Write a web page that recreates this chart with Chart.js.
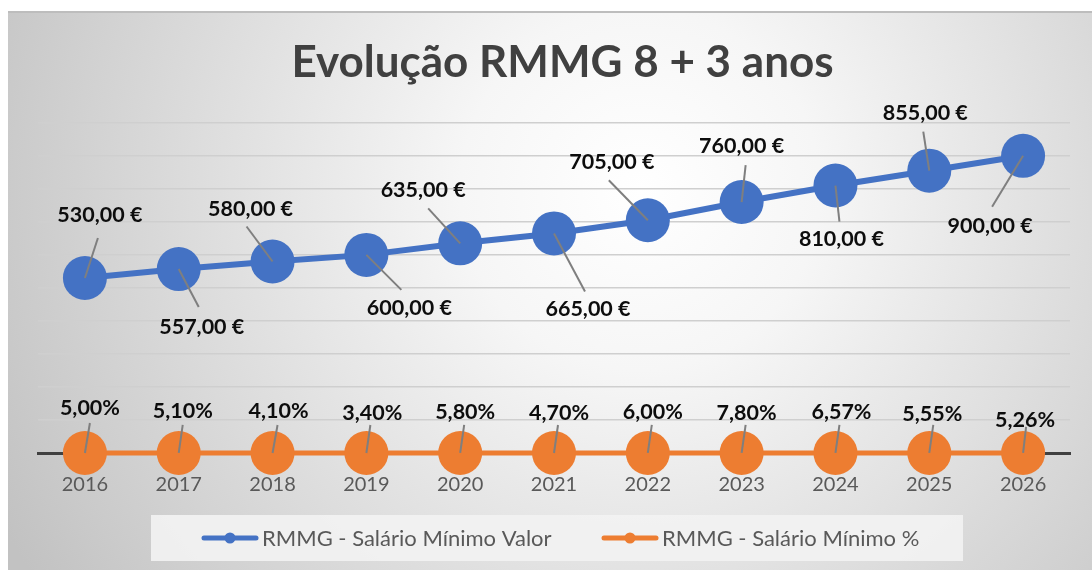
<!DOCTYPE html>
<html>
<head>
<meta charset="utf-8">
<script src="https://cdn.jsdelivr.net/npm/chart.js@4.4.1/dist/chart.umd.min.js"></script>
<style>
  html, body { margin: 0; padding: 0; background: #fff; }
  #wrap { width: 1092px; height: 570px; position: relative; }
</style>
</head>
<body>
<div id="wrap"><canvas id="chart"></canvas></div>
<script>
const years = ["2016","2017","2018","2019","2020","2021","2022","2023","2024","2025","2026"];
const salarioValor = [530, 557, 580, 600, 635, 665, 705, 760, 810, 855, 900];
const salarioPct = [0.05, 0.051, 0.041, 0.034, 0.058, 0.047, 0.06, 0.078, 0.0657, 0.0555, 0.0526];
const yTicks = { min: 0, max: 1000, step: 100 };

const FONT = "Lato, 'Open Sans', sans-serif";

// label placement (offset from the point: text centre + leader end)
const valorLabelPos = [
  [15,-63, 13,-40], [23,58, 20,38], [-22,-52, -26,-35], [43,53, 35,35],
  [-37,-53, -32,-35], [34,76, 31,58], [-36,-58, -39,-40], [0,-56, 4,-37],
  [6,54, 4,36], [-4,-58, -6,-39], [-33,70, -31,51]
];
const pctLabelPos = [
  [5,-45, 5,-30], [4,-42, 4,-28], [6,-42, 5,-28], [6,-40, 4,-28],
  [5,-41, 4,-28], [5,-40, 4,-28], [5,-41, 4,-28], [5,-40, 4,-28],
  [6,-41, 4,-28], [3,-39, 4,-28], [2,-33, 3,-26]
];

const fmtEuro = v => v.toFixed(2).replace(".", ",") + " €";
const fmtPct = v => (v * 100).toFixed(2).replace(".", ",") + "%";

const background = {
  id: "background",
  beforeDraw(chart) {
    const c = chart.ctx;
    c.save();
    c.fillStyle = "#fff";
    c.fillRect(0, 0, chart.width, chart.height);
    const g = c.createRadialGradient(640, 190, 0, 640, 190, 720);
    g.addColorStop(0, "#ffffff");
    g.addColorStop(0.25, "#f6f6f6");
    g.addColorStop(1, "#c2c2c2");
    c.fillStyle = g;
    c.fillRect(8, 11, chart.width - 8, chart.height - 11);
    c.fillStyle = "#bdbdbd";
    c.fillRect(8, 11, chart.width - 8, 2);
    c.restore();
  }
};

const labels = {
  id: "pointLabels",
  afterDatasetsDraw(chart) {
    const c = chart.ctx;
    c.save();
    c.font = "bold 21.5px " + FONT;
    c.textAlign = "center";
    c.textBaseline = "middle";
    chart.data.datasets.forEach((ds, i) => {
      const pos = i === 0 ? valorLabelPos : pctLabelPos;
      const fmt = i === 0 ? fmtEuro : fmtPct;
      chart.getDatasetMeta(i).data.forEach((pt, j) => {
        const p = pos[j];
        c.strokeStyle = "#7f7f7f";
        c.lineWidth = 2;
        c.beginPath();
        c.moveTo(pt.x, pt.y);
        c.lineTo(pt.x + p[2], pt.y + p[3]);
        c.stroke();
        c.fillStyle = "#0d0d0d";
        c.fillText(fmt(ds.data[j]), pt.x + p[0], pt.y + p[1]);
      });
    });
    c.restore();
  }
};

const legendBox = {
  id: "legendBox",
  afterDraw(chart) {
    const c = chart.ctx;
    c.save();
    c.fillStyle = "rgba(242,242,242,0.92)";
    c.fillRect(151, 515, 812, 46);
    const y = 538;
    const items = [[202, chart.data.datasets[0]], [602, chart.data.datasets[1]]];
    c.font = "22px " + FONT;
    c.textBaseline = "middle";
    c.textAlign = "left";
    items.forEach(([x, ds]) => {
      c.strokeStyle = ds.borderColor;
      c.lineWidth = 5;
      c.lineCap = "round";
      c.beginPath();
      c.moveTo(x + 2, y);
      c.lineTo(x + 54, y);
      c.stroke();
      c.fillStyle = ds.borderColor;
      c.beginPath();
      c.arc(x + 28, y, 5.5, 0, Math.PI * 2);
      c.fill();
      c.fillStyle = "#595959";
      c.fillText(ds.label, x + 60, y + 1);
    });
    c.restore();
  }
};

new Chart(document.getElementById("chart"), {
  type: "line",
  data: {
    labels: years,
    datasets: [
      {
        label: "RMMG - Salário Mínimo Valor",
        data: salarioValor,
        borderColor: "#4472c4",
        backgroundColor: "#4472c4",
        borderWidth: 6,
        pointRadius: 22,
        pointHoverRadius: 22,
        pointBorderWidth: 0,
        clip: false
      },
      {
        label: "RMMG - Salário Mínimo %",
        data: salarioPct,
        borderColor: "#ed7d31",
        backgroundColor: "#ed7d31",
        borderWidth: 5,
        pointRadius: 22,
        pointHoverRadius: 22,
        pointBorderWidth: 0,
        clip: false
      }
    ]
  },
  options: {
    responsive: true,
    maintainAspectRatio: false,
    animation: false,
    events: [],
    layout: { padding: { left: 38, right: 5, top: 0, bottom: 0 } },
    plugins: {
      legend: { display: false },
      tooltip: { enabled: false },
      title: {
        display: true,
        text: "Evolução RMMG 8 + 3 anos",
        color: "#404040",
        font: { family: FONT, size: 44, weight: "bold" },
        padding: { top: 36, bottom: 34 }
      }
    },
    scales: {
      x: {
        offset: true,
        grid: { display: false },
        border: { display: true, color: "#404040", width: 3 },
        ticks: { color: "#595959", font: { family: FONT, size: 20 }, padding: 12 },
        afterFit(scale) { scale.height = 117; }
      },
      y: {
        min: yTicks.min,
        max: yTicks.max,
        ticks: { display: false, stepSize: yTicks.step },
        border: { display: false },
        grid: {
          drawTicks: false,
          color: ctx => ctx.tick && ctx.tick.value === 0 ? "#404040" : "#cfcfcf",
          lineWidth: ctx => ctx.tick && ctx.tick.value === 0 ? 3 : 1.5
        },
        afterFit(scale) { scale.width = 0; }
      }
    }
  },
  plugins: [background, labels, legendBox]
});
</script>
</body>
</html>
